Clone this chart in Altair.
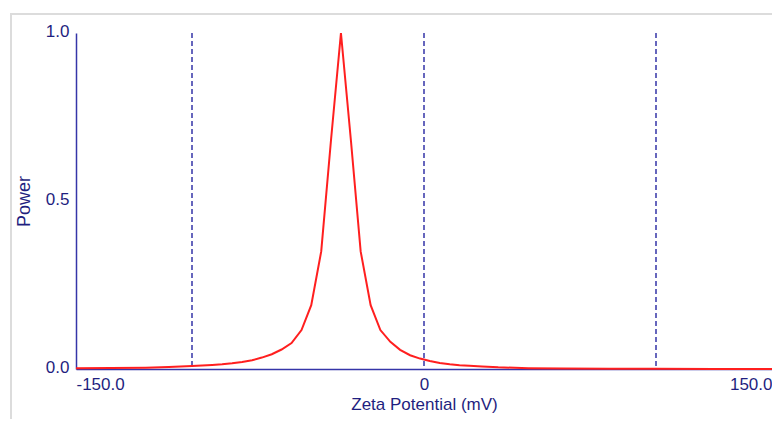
import altair as alt
import pandas as pd

# Zeta potential distribution (mV) and normalised power
zeta_mv = [-150, -135, -120, -110, -100, -91.3, -87.0, -82.7, -78.4, -74.1,
           -69.9, -65.6, -61.4, -57.1, -52.8, -48.6, -44.3, -40.1, -35.8,
           -31.5, -27.3, -23.0, -18.8, -14.5, -10.3, -6.0, -1.7, 2.5, 6.8,
           11.1, 15.3, 19.6, 25.0, 32.0, 45.0, 60.0, 80.0, 100.0, 125.0, 150.0]
power = [0.002, 0.003, 0.004, 0.006, 0.009, 0.012, 0.014, 0.017, 0.021, 0.026,
         0.034, 0.044, 0.058, 0.077, 0.116, 0.19, 0.35, 0.68, 1.0,
         0.68, 0.35, 0.19, 0.116, 0.081, 0.057, 0.041, 0.031, 0.024, 0.018,
         0.014, 0.011, 0.0095, 0.0075, 0.005, 0.0025, 0.0015, 0.001, 0.0005, 0.0002, 0.0]

ref_lines = [-100, 0, 100]
x_ticks = [-150, 0, 150]
y_ticks = [0.0, 0.5, 1.0]

W, H = 696, 336
FONT = "Liberation Sans"
LABEL_COLOR = "#1f1f80"
AXIS_COLOR = "#3535a8"

df = pd.DataFrame({"zeta": zeta_mv, "power": power})
rules = pd.DataFrame({"zeta": ref_lines})

x_scale = alt.Scale(domain=[-150, 150], nice=False, zero=False)
y_scale = alt.Scale(domain=[0, 1], nice=False)

frame = alt.Chart(pd.DataFrame({"a": [0]})).mark_rect(
    filled=False, stroke="#dcdcdc", strokeWidth=2
).encode(
    x=alt.value(-65), x2=alt.value(W + 40),
    y=alt.value(-19), y2=alt.value(H + 90),
)

rule_layer = alt.Chart(rules).mark_rule(
    color=AXIS_COLOR, strokeWidth=1.5, strokeDash=[5, 3]
).encode(
    x=alt.X("zeta:Q", scale=x_scale)
)

line = alt.Chart(df).mark_line(color="#ff1f1f", strokeWidth=2).encode(
    x=alt.X("zeta:Q", scale=x_scale,
            axis=alt.Axis(title="Zeta Potential (mV)", values=x_ticks,
                          labelExpr="datum.value == 0 ? '0' : (datum.value < 0 ? '-' : '') + format(abs(datum.value), '.1f')",
                          labelFlush=True, grid=False, ticks=False, tickSize=0,
                          labelPadding=7, titlePadding=4,
                          labelFontSize=17, titleFontSize=17)),
    y=alt.Y("power:Q", scale=y_scale,
            axis=alt.Axis(title="Power", values=y_ticks, format=".1f",
                          grid=False, ticks=False, tickSize=0,
                          labelPadding=7, labelOffset=-2, titlePadding=12,
                          labelFontSize=17, titleFontSize=18)),
)

chart = alt.layer(frame, rule_layer, line).properties(
    width=W, height=H,
    autosize=alt.AutoSizeParams(type="none"),
    padding={"left": 68, "top": 25, "right": 0, "bottom": 50},
    background="white",
).configure_view(stroke=None).configure_axis(
    domainColor=AXIS_COLOR, domainWidth=1.5,
    labelColor=LABEL_COLOR, labelFont=FONT,
    titleColor=LABEL_COLOR, titleFont=FONT,
    titleFontWeight="normal",
)

chart.save("out.html", embed_options={"renderer": "svg", "actions": False})
